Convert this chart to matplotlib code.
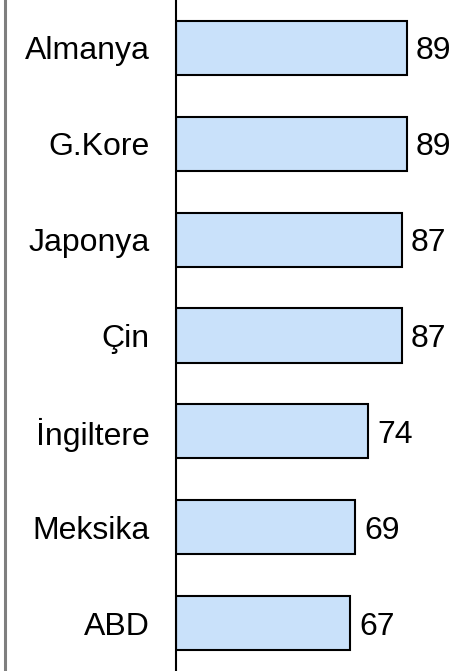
import matplotlib
matplotlib.use("Agg")
import matplotlib.pyplot as plt
from matplotlib.lines import Line2D

countries = ["Almanya", "G.Kore", "Japonya", "Çin", "İngiltere", "Meksika", "ABD"]
values = [89, 89, 87, 87, 74, 69, 67]

plt.rcParams["font.family"] = ["Liberation Sans", "DejaVu Sans"]

fig = plt.figure(figsize=(4.54, 6.71), dpi=100)
ax = fig.add_axes([176 / 454, 0, 278 / 454, 1])

pos = list(range(len(countries)))
ax.barh(pos, values, height=0.565, color="#c9e1fa", edgecolor="black", linewidth=1.5)
ax.set_ylim(len(countries) - 0.5, -0.5)
ax.set_xlim(0, 107)

for y, v in zip(pos, values):
    ax.text(v + 3.4, y, str(v), va="center_baseline", ha="left", fontsize=23)

ax.set_yticks(pos)
ax.set_yticklabels(countries, fontsize=23)
ax.tick_params(axis="y", length=0, pad=19)
ax.set_xticks([])
for s in ("top", "right", "bottom"):
    ax.spines[s].set_visible(False)
ax.spines["left"].set_linewidth(1.5)

# gray frame line at the left edge
fig.add_artist(Line2D([5 / 454, 5 / 454], [0, 1], color="#7f7f7f", lw=2.2,
                      transform=fig.transFigure))

fig.savefig("out.png", dpi=100)
